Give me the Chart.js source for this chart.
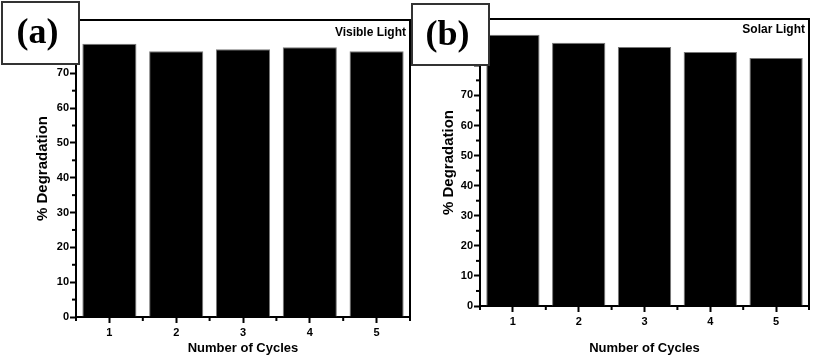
<!DOCTYPE html>
<html>
<head>
<meta charset="utf-8">
<script src="https://cdn.jsdelivr.net/npm/chart.js@4/dist/chart.umd.min.js"></script>
<style>
  body { margin: 0; background: #fff; width: 813px; height: 356px; position: relative; overflow: hidden; }
  .panel { position: absolute; top: 0; }
  #panelA { left: 0; width: 412px; height: 356px; }
  #panelB { left: 410px; width: 403px; height: 356px; }
</style>
</head>
<body>
<div class="panel" id="panelA"><canvas id="canvasA"></canvas></div>
<div class="panel" id="panelB"><canvas id="canvasB"></canvas></div>
<script>
// dados
const ciclos = ['1', '2', '3', '4', '5'];
const degradacaoVisivel = [78.5, 76.3, 76.9, 77.5, 76.3];
const degradacaoSolar = [90.2, 87.5, 86.1, 84.4, 82.4];
const ticksVisivel = [0, 10, 20, 30, 40, 50, 60, 70, 80];
const ticksSolar = [0, 10, 20, 30, 40, 50, 60, 70, 80, 90];
const ultimoRotulo = 70;

const fonteEixo = "'Liberation Sans', Arial, sans-serif";

// moldura, ticks menores e caixa com a letra do painel
function pluginPainel(letra, legenda, caixa, legendaY) {
    return {
        id: 'painel' + letra,
        afterDraw(chart) {
            const ctx = chart.ctx;
            const area = chart.chartArea;
            const x = chart.scales.x;
            const y = chart.scales.y;
            ctx.save();
            ctx.strokeStyle = '#000';
            ctx.lineWidth = 2;
            ctx.beginPath();
            ctx.moveTo(area.left, area.top);
            ctx.lineTo(area.right, area.top);
            ctx.lineTo(area.right, area.bottom);
            ctx.stroke();

            // ticks menores no eixo y (a cada 5)
            for (let v = 5; v < y.max; v += 10) {
                const py = y.getPixelForValue(v);
                ctx.beginPath();
                ctx.moveTo(area.left - 4, py);
                ctx.lineTo(area.left, py);
                ctx.stroke();
            }
            // ticks nos limites das categorias
            for (let i = 0; i <= ciclos.length; i++) {
                const px = x.getPixelForValue(i - 0.5);
                ctx.beginPath();
                ctx.moveTo(px, area.bottom);
                ctx.lineTo(px, area.bottom + 4);
                ctx.stroke();
            }

            ctx.fillStyle = '#000';
            ctx.font = "bold 12px " + fonteEixo;
            ctx.textAlign = 'right';
            ctx.textBaseline = 'middle';
            ctx.fillText(legenda, area.right - 4, legendaY);

            ctx.fillStyle = '#fff';
            ctx.fillRect(caixa.x, caixa.y, caixa.w, caixa.h);
            ctx.strokeStyle = '#333';
            ctx.lineWidth = 2;
            ctx.strokeRect(caixa.x, caixa.y, caixa.w, caixa.h);
            ctx.fillStyle = '#000';
            ctx.font = "bold 36px 'Liberation Serif', 'Times New Roman', serif";
            ctx.textAlign = 'center';
            ctx.fillText(letra, caixa.x + caixa.w / 2 - 3, caixa.y + caixa.h / 2 + 1);
            ctx.restore();
        }
    };
}

function criarGrafico(idCanvas, valores, ticksY, maxY, cfg) {
    const el = document.getElementById(idCanvas);
    return new Chart(el.getContext('2d'), {
        type: 'bar',
        data: {
            labels: ciclos,
            datasets: [{
                label: '% Degradation',
                data: valores,
                backgroundColor: '#000',
                borderColor: '#777',
                borderWidth: 1,
                barPercentage: 0.81,
                categoryPercentage: 1
            }]
        },
        options: {
            responsive: true,
            maintainAspectRatio: false,
            animation: false,
            layout: { padding: { top: cfg.top, right: cfg.right, left: 0, bottom: 0 } },
            plugins: { legend: { display: false }, tooltip: { enabled: false } },
            scales: {
                x: {
                    afterFit: (s) => { s.height = cfg.xHeight; },
                    grid: { display: true, drawOnChartArea: false, offset: false, tickLength: 6, tickWidth: 2, tickColor: '#000' },
                    border: { display: true, color: '#000', width: 2 },
                    ticks: { color: '#000', padding: 3, font: { family: fonteEixo, size: 11, weight: 'bold' } },
                    title: {
                        display: true, text: 'Number of Cycles', color: '#000',
                        padding: { top: cfg.xTitlePad, bottom: 0 },
                        font: { family: fonteEixo, size: 13, weight: 'bold' }
                    }
                },
                y: {
                    min: 0,
                    max: maxY,
                    afterFit: (s) => { s.width = cfg.yWidth; },
                    afterBuildTicks: (s) => { s.ticks = ticksY.map(v => ({ value: v })); },
                    grid: { display: true, drawOnChartArea: false, tickLength: 6, tickWidth: 2, tickColor: '#000' },
                    border: { display: true, color: '#000', width: 2 },
                    ticks: {
                        color: '#000', padding: 1,
                        font: { family: fonteEixo, size: 11, weight: 'bold' },
                        callback: (v) => (v <= ultimoRotulo ? v : '')
                    },
                    title: {
                        display: true, text: '% Degradation', color: '#000',
                        padding: { top: cfg.yTitlePad, bottom: 0 },
                        font: { family: fonteEixo, size: 15, weight: 'bold' }
                    }
                }
            }
        },
        plugins: [pluginPainel(cfg.letra, cfg.legenda, cfg.caixa, cfg.legendaY)]
    });
}

criarGrafico('canvasA', degradacaoVisivel, ticksVisivel, 85.3, {
    letra: '(a)', legenda: 'Visible Light', legendaY: 33,
    caixa: { x: 2, y: 2, w: 77, h: 62 },
    top: 20, right: 2, xHeight: 39, yWidth: 76, xTitlePad: 1, yTitlePad: 34
});

criarGrafico('canvasB', degradacaoSolar, ticksSolar, 95.4, {
    letra: '(b)', legenda: 'Solar Light', legendaY: 30,
    caixa: { x: 2, y: 4, w: 77, h: 61 },
    top: 19, right: 4, xHeight: 50, yWidth: 70, xTitlePad: 10, yTitlePad: 30
});
</script>
</body>
</html>
